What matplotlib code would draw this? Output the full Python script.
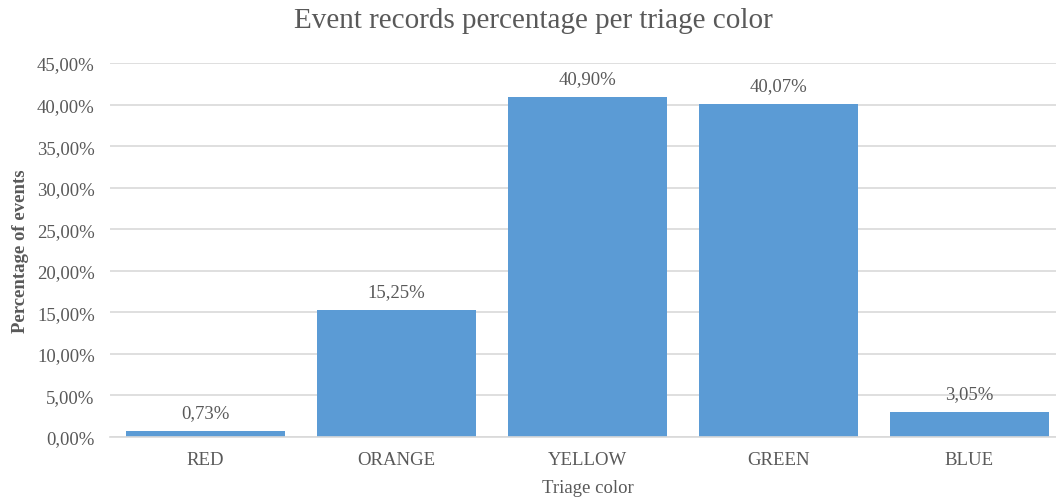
import matplotlib
matplotlib.use("Agg")
import matplotlib.pyplot as plt
from matplotlib.ticker import FuncFormatter

categories = ["RED", "ORANGE", "YELLOW", "GREEN", "BLUE"]
percentages = [0.73, 15.25, 40.90, 40.07, 3.05]
y_ticks = [0, 5, 10, 15, 20, 25, 30, 35, 40, 45]

TEXT = "#595959"
BAR = "#5B9BD5"
GRID = "#D9D9D9"

plt.rcParams["font.family"] = ["Liberation Serif", "DejaVu Serif"]

W, H = 1056, 502
fig = plt.figure(figsize=(W / 100, H / 100), dpi=100)
left, right, top, bottom = 110, 1065, 64, 438
ax = fig.add_axes([left / W, 1 - bottom / H, (right - left) / W, (bottom - top) / H])

x = list(range(len(categories)))
ax.bar(x, percentages, width=0.83, color=BAR, zorder=2)

def pct(v):
    return f"{v:.2f}".replace(".", ",") + "%"

for xi, v in zip(x, percentages):
    ax.annotate(pct(v), (xi, v), xytext=(0, 7), textcoords="offset points",
                ha="center", va="bottom", fontsize=13.5, color=TEXT)

ax.set_xlim(-0.5, len(categories) - 0.5)
ax.set_ylim(0, 45)
ax.set_yticks(y_ticks)
ax.yaxis.set_major_formatter(FuncFormatter(lambda v, _: pct(v)))
ax.set_xticks(x)
ax.set_xticklabels(categories)
ax.tick_params(axis="both", length=0, labelsize=13.5, labelcolor=TEXT)
ax.tick_params(axis="y", pad=11)
ax.tick_params(axis="x", pad=10)

ax.grid(axis="y", color=GRID, linewidth=1.2, zorder=0)
for s in ["top", "right", "left"]:
    ax.spines[s].set_visible(False)
ax.spines["bottom"].set_color(GRID)
ax.spines["bottom"].set_linewidth(1.2)

ax.set_ylabel("Percentage of events", fontsize=13.5, color=TEXT,
              fontweight="bold", labelpad=6)
ax.set_xlabel("Triage color", fontsize=13.5, color=TEXT, labelpad=8)
fig.text(533 / W, 1 - 21 / H, "Event records percentage per triage color",
         ha="center", va="center", fontsize=21, color=TEXT)

fig.savefig("out.png", dpi=100)
